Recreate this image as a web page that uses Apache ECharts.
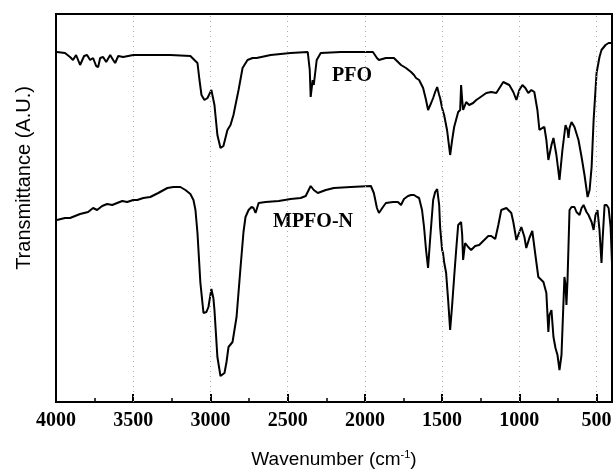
<!DOCTYPE html>
<html>
<head>
<meta charset="utf-8">
<script src="https://cdn.jsdelivr.net/npm/echarts@6/dist/echarts.min.js"></script>
<style>html,body{margin:0;padding:0;background:#fff}#c{width:613px;height:470px}</style>
</head>
<body>
<div id="c"></div>
<script>
// Tick labels (cm^-1)
const majorTicks = [500, 1000, 1500, 2000, 2500, 3000, 3500, 4000];
const minorTicks = [750, 1250, 1750, 2250, 2750, 3250, 3750];
const gridLines = [500, 1000, 1500, 2000, 2500, 3000, 3500];

// PFO spectrum: [wavenumber, transmittance (a.u.)]
const pfo = [
[3994,350],[3942,349],[3909,345],[3890,342],[3870,347],[3844,337],[3818,346],[3799,347],[3779,342],[3760,344],
[3740,336],[3727,335],[3714,344],[3695,345],[3675,340],[3649,347],[3630,342],[3617,339],[3597,346],[3565,345],
[3500,347],[3390,347],[3260,347],[3130,346],[3104,342],[3084,339],[3071,322],[3058,307],[3039,302],[3019,304],
[2994,312],[2974,297],[2955,267],[2935,254],[2916,256],[2890,272],[2870,277],[2851,287],[2818,312],[2792,334],
[2760,342],[2727,344],[2701,344],[2610,347],[2481,349],[2370,350],[2357,332],[2351,305],[2338,322],[2331,317],
[2312,342],[2286,349],[2156,350],[1948,350],[1922,344],[1909,342],[1864,344],[1812,344],[1766,337],[1734,334],
[1701,330],[1682,327],[1669,324],[1649,322],[1623,314],[1604,302],[1591,292],[1571,299],[1558,304],[1545,310],
[1532,315],[1519,307],[1513,304],[1500,294],[1487,287],[1468,272],[1448,247],[1435,262],[1422,275],[1396,290],
[1383,292],[1377,317],[1370,302],[1364,292],[1344,300],[1325,297],[1299,299],[1279,302],[1260,304],[1214,309],
[1182,310],[1149,309],[1104,320],[1065,317],[1039,310],[1019,302],[1000,312],[980,317],[961,314],[942,309],
[922,312],[903,310],[883,292],[870,272],[851,274],[838,275],[825,262],[812,242],[792,257],[779,264],
[760,247],[740,222],[721,252],[701,277],[688,272],[682,264],[675,274],[662,280],[643,275],[617,262],
[597,245],[578,227],[558,205],[545,212],[532,235],[519,282],[500,329],[481,345],[468,352],[442,357],
[422,359],[400,359]
];

// MPFO-N spectrum: [wavenumber, transmittance (a.u.)]
const mpfoN = [
[3994,182],[3942,184],[3909,184],[3844,188],[3792,190],[3760,194],[3734,192],[3701,196],[3669,198],[3636,197],
[3604,199],[3571,201],[3539,200],[3500,202],[3474,202],[3435,204],[3390,205],[3338,209],[3279,214],[3240,215],
[3195,215],[3162,212],[3130,208],[3110,202],[3097,192],[3084,169],[3065,119],[3045,89],[3026,90],[3013,95],
[2994,113],[2981,104],[2974,92],[2955,45],[2935,26],[2909,29],[2896,40],[2883,55],[2857,60],[2831,85],
[2805,135],[2786,170],[2773,185],[2753,192],[2734,195],[2721,194],[2708,189],[2688,199],[2643,200],[2558,201],
[2481,203],[2416,204],[2383,206],[2364,212],[2351,216],[2331,212],[2305,209],[2253,212],[2201,214],[2091,215],
[1961,216],[1942,209],[1922,194],[1909,189],[1883,195],[1864,199],[1818,200],[1786,200],[1766,197],[1747,203],
[1721,206],[1701,207],[1682,207],[1662,205],[1649,204],[1630,192],[1617,175],[1604,152],[1591,134],[1578,162],
[1558,202],[1545,210],[1532,213],[1519,197],[1513,175],[1500,152],[1494,149],[1487,140],[1474,129],[1461,102],
[1448,72],[1435,97],[1422,125],[1409,152],[1396,177],[1377,180],[1370,167],[1364,142],[1351,159],[1331,155],
[1312,152],[1286,156],[1260,157],[1234,161],[1201,166],[1182,166],[1156,163],[1136,177],[1117,192],[1084,194],
[1052,189],[1039,180],[1019,162],[1000,170],[987,175],[967,165],[955,154],[935,164],[916,171],[896,147],
[877,125],[857,122],[844,120],[825,109],[812,70],[805,87],[792,92],[779,65],[766,54],[753,47],
[740,32],[727,47],[721,72],[708,125],[701,117],[695,97],[688,122],[675,192],[662,195],[643,195],
[630,190],[610,187],[597,194],[584,197],[565,190],[552,187],[532,180],[519,172],[507,187],[494,192],
[481,172],[468,139],[461,162],[448,197],[435,197],[422,194],[409,175],[400,139]
];

const chart = echarts.init(document.getElementById('c'), null, {renderer: 'canvas'});
const serif = '"Liberation Serif", "Times New Roman", serif';
const sans = '"Liberation Sans", Arial, sans-serif';

chart.setOption({
  animation: false,
  backgroundColor: '#fff',
  grid: {left: 56, right: 1, top: 14, bottom: 68, show: true, borderColor: '#000', borderWidth: 2,
         backgroundColor: 'transparent', containLabel: false, outerBoundsMode: 'none'},
  xAxis: [{
    type: 'value', min: 400, max: 4000, inverse: true, position: 'bottom',
    axisLine: {show: true, lineStyle: {color: '#000', width: 2}},
    axisTick: {show: true, inside: true, length: 8, lineStyle: {color: '#000', width: 2}, customValues: majorTicks},
    axisLabel: {show: true, customValues: majorTicks, formatter: v => String(v), color: '#000',
                fontFamily: serif, fontWeight: 'bold', fontSize: 20, margin: 9, hideOverlap: false},
    splitLine: {show: false},
    name: '{a|Wavenumber (cm}{s|-1}{a|)}',
    nameLocation: 'middle', nameGap: 47,
    nameTextStyle: {rich: {
      a: {fontFamily: sans, fontSize: 19, color: '#000'},
      s: {fontFamily: sans, fontSize: 11, color: '#000', verticalAlign: 'top', padding: [0, 0, 10, 0]}
    }}
  }, {
    type: 'value', min: 400, max: 4000, inverse: true, position: 'bottom', gridIndex: 0,
    axisLine: {show: false},
    axisTick: {show: true, inside: true, length: 4, lineStyle: {color: '#000', width: 1.5}, customValues: minorTicks},
    axisLabel: {show: false},
    splitLine: {show: false}
  }],
  yAxis: {
    type: 'value', min: 0, max: 388,
    axisLine: {show: true, lineStyle: {color: '#000', width: 2}},
    axisTick: {show: false}, axisLabel: {show: false}, splitLine: {show: false}
  },
  graphic: [
    {type: 'text', x: 24, y: 178, rotation: Math.PI / 2,
     style: {text: 'Transmittance (A.U.)', fontFamily: sans, fontSize: 20, fill: '#000', align: 'center', verticalAlign: 'middle'}},
    {type: 'text', x: 352, y: 76,
     style: {text: 'PFO', fontFamily: serif, fontWeight: 'bold', fontSize: 20, fill: '#000', align: 'center', verticalAlign: 'middle'}},
    {type: 'text', x: 313, y: 222,
     style: {text: 'MPFO-N', fontFamily: serif, fontWeight: 'bold', fontSize: 20, fill: '#000', align: 'center', verticalAlign: 'middle'}}
  ],
  series: [
    {name: 'PFO', type: 'line', data: pfo, showSymbol: false, xAxisIndex: 0,
     lineStyle: {color: '#000', width: 2}, z: 3,
     markLine: {silent: true, symbol: 'none', label: {show: false},
       lineStyle: {color: '#aaa', width: 1, type: [1, 4]},
       data: gridLines.map(v => ({xAxis: v}))}},
    {name: 'MPFO-N', type: 'line', data: mpfoN, showSymbol: false, xAxisIndex: 0,
     lineStyle: {color: '#000', width: 2}, z: 3}
  ]
});
</script>
</body>
</html>
